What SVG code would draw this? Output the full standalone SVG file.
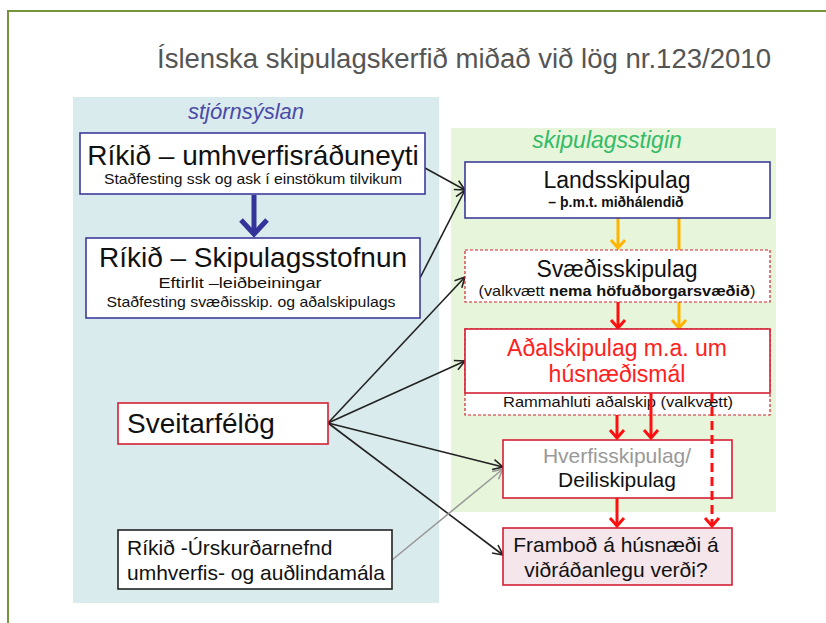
<svg xmlns="http://www.w3.org/2000/svg" width="826" height="623" viewBox="0 0 826 623">
<defs>
<style>
text{font-family:"Liberation Sans",Arial,sans-serif;fill:#111}
.ttl{font-size:28px}
.sub{font-size:15px}
.mid{font-size:21px}
.big{font-size:23px}
.c{text-anchor:middle}
.blue{fill:#fff;stroke:#3c3c9c;stroke-width:1.6}
.red{fill:#fff;stroke:#d42035;stroke-width:1.6}
.reddash{fill:#fff;stroke:#d42035;stroke-width:1.2;stroke-dasharray:3,2}
.blk{stroke:#222;stroke-width:1.6;fill:none}
.gry{stroke:#999;stroke-width:1.6;fill:none}
.yel{stroke:#ffb400;stroke-width:3;fill:none}
.rd{stroke:#ff1010;stroke-width:3;fill:none}
</style>
<marker id="ab" markerUnits="userSpaceOnUse" markerWidth="14" markerHeight="14" viewBox="0 0 14 14" refX="12" refY="7" orient="auto">
<path d="M2,2 L12,7 L2,12" fill="none" stroke="#222" stroke-width="1.6"/>
</marker>
<marker id="ag" markerUnits="userSpaceOnUse" markerWidth="14" markerHeight="14" viewBox="0 0 14 14" refX="12" refY="7" orient="auto">
<path d="M2,2 L12,7 L2,12" fill="none" stroke="#999" stroke-width="1.6"/>
</marker>
<marker id="ay" markerUnits="userSpaceOnUse" markerWidth="20" markerHeight="20" viewBox="0 0 20 20" refX="17" refY="10" orient="auto">
<path d="M9,3 L17,10 L9,17" fill="none" stroke="#ffb400" stroke-width="3"/>
</marker>
<marker id="ar" markerUnits="userSpaceOnUse" markerWidth="20" markerHeight="20" viewBox="0 0 20 20" refX="17" refY="10" orient="auto">
<path d="M9,3 L17,10 L9,17" fill="none" stroke="#ff1010" stroke-width="3"/>
</marker>
<marker id="abl" markerUnits="userSpaceOnUse" markerWidth="26" markerHeight="30" viewBox="0 0 26 30" refX="22" refY="15" orient="auto">
<path d="M8,2 L22,15 L8,28" fill="none" stroke="#333399" stroke-width="5"/>
</marker>
</defs>

<rect width="826" height="623" fill="#fff"/>
<path d="M8,623 V11 H826" fill="none" stroke="#77933c" stroke-width="2"/>

<text x="464" y="68" class="c" style="font-size:27px;fill:#555" textLength="614" lengthAdjust="spacingAndGlyphs">Íslenska skipulagskerfið miðað við lög nr.123/2010</text>

<g id="panel-stjornsyslan">
<rect x="73" y="97" width="366" height="506" fill="#daebee"/>
<text x="246" y="119" class="c" style="font-size:22px;font-style:italic;fill:#4a4aa8">stjórnsýslan</text>
</g>
<g id="panel-skipulagsstigin">
<rect x="451" y="128" width="325" height="384" fill="#e7f6da"/>
<text x="607" y="148" class="c" style="font-size:23px;font-style:italic;fill:#33bb66">skipulagsstigin</text>
</g>

<g id="connectors">
<line x1="254" y1="195" x2="254" y2="234" stroke="#333399" stroke-width="5" marker-end="url(#abl)"/>
<line x1="425" y1="168" x2="465" y2="190" class="blk" marker-end="url(#ab)"/>
<line x1="420" y1="278" x2="465" y2="190" class="blk" marker-end="url(#ab)"/>
<line x1="328" y1="423" x2="465" y2="277" class="blk" marker-end="url(#ab)"/>
<line x1="328" y1="423" x2="465" y2="361" class="blk" marker-end="url(#ab)"/>
<line x1="328" y1="423" x2="503" y2="467" class="blk" marker-end="url(#ab)"/>
<line x1="328" y1="423" x2="503" y2="555" class="blk" marker-end="url(#ab)"/>
<line x1="392" y1="560" x2="503" y2="469" class="gry" marker-end="url(#ag)"/>
<line x1="618" y1="218" x2="618" y2="248" class="yel" marker-end="url(#ay)"/>
<line x1="679" y1="218" x2="679" y2="328" class="yel" marker-end="url(#ay)"/>
<line x1="618" y1="302" x2="618" y2="328" class="rd" marker-end="url(#ar)"/>
</g>

<g id="box-umhverfisraduneyti">
<rect x="80" y="133" width="345" height="61" class="blue"/>
<text x="253" y="165" class="c ttl">Ríkið – umhverfisráðuneyti</text>
<text x="253" y="184" class="c sub" textLength="298" lengthAdjust="spacingAndGlyphs">Staðfesting ssk og ask í einstökum tilvikum</text>
</g>
<g id="box-skipulagsstofnun">
<rect x="86" y="238" width="334" height="80" class="blue"/>
<text x="253" y="267" class="c ttl">Ríkið – Skipulagsstofnun</text>
<text x="240" y="288" class="c sub" textLength="163" lengthAdjust="spacingAndGlyphs">Eftirlit –leiðbeiningar</text>
<text x="251" y="307" class="c sub" textLength="289" lengthAdjust="spacingAndGlyphs">Staðfesting svæðisskip. og aðalskipulags</text>
</g>
<g id="box-sveitarfelog">
<rect x="118" y="403" width="210" height="41" class="red"/>
<text x="127" y="433" style="font-size:28px">Sveitarfélög</text>
</g>
<g id="box-urskurdarnefnd">
<rect x="118" y="530" width="274" height="59" fill="#fff" stroke="#222" stroke-width="1.6"/>
<text x="127" y="555" class="mid">Ríkið -Úrskurðarnefnd</text>
<text x="127" y="580" class="mid">umhverfis- og auðlindamála</text>
</g>

<g id="box-landsskipulag">
<rect x="465" y="162" width="305" height="56" class="blue"/>
<text x="617" y="188" class="c big">Landsskipulag</text>
<text x="616" y="207" class="c" style="font-size:14px;font-weight:bold">– þ.m.t. miðhálendið</text>
</g>
<g id="box-svaedisskipulag">
<rect x="465" y="250" width="305" height="52" class="reddash"/>
<text x="617" y="277" class="c big">Svæðisskipulag</text>
<text x="617" y="296" class="c sub" textLength="277" lengthAdjust="spacingAndGlyphs">(valkvætt <tspan style="font-weight:bold">nema höfuðborgarsvæðið</tspan>)</text>
</g>
<g id="box-adalskipulag">
<rect x="465" y="329" width="305" height="86" class="reddash"/>
<rect x="465" y="329" width="305" height="64" fill="#fff" stroke="#d42035" stroke-width="1.6"/>
<text x="617" y="356" class="c big" style="fill:#ff2020">Aðalskipulag m.a. um</text>
<text x="617" y="382" class="c big" style="fill:#ff2020">húsnæðismál</text>
<text x="618" y="407" class="c sub" textLength="230" lengthAdjust="spacingAndGlyphs">Rammahluti aðalskip  (valkvætt)</text>
</g>
<g id="box-deiliskipulag">
<rect x="503" y="440" width="229" height="58" class="red"/>
<text x="617" y="463" class="c mid" style="fill:#999">Hverfisskipulag/</text>
<text x="617" y="487" class="c mid">Deiliskipulag</text>
</g>
<g id="box-frambod">
<rect x="503" y="528" width="229" height="57" fill="#f4e6ea" stroke="#d42035" stroke-width="1.6"/>
<text x="616" y="552" class="c mid">Framboð á húsnæði á</text>
<text x="616" y="577" class="c mid">viðráðanlegu verði?</text>
</g>

<g id="connectors-red">
<line x1="617" y1="415" x2="617" y2="438" class="rd" marker-end="url(#ar)"/>
<line x1="651" y1="393" x2="651" y2="438" class="rd" marker-end="url(#ar)"/>
<line x1="712" y1="393" x2="712" y2="526" class="rd" stroke-dasharray="9,5" marker-end="url(#ar)"/>
<line x1="617" y1="498" x2="617" y2="526" class="rd" marker-end="url(#ar)"/>
</g>
</svg>
